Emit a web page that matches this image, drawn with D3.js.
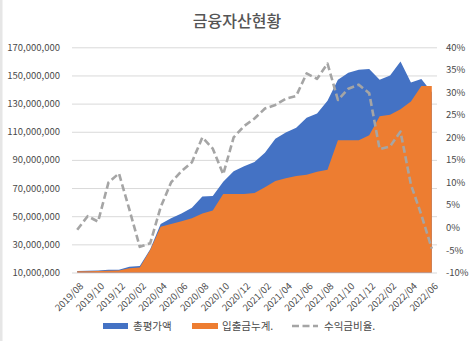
<!DOCTYPE html>
<html>
<head>
<meta charset="utf-8">
<script src="https://cdn.jsdelivr.net/npm/d3@7"></script>
<style>
  body { margin: 0; background: #fff; }
  svg { display: block; }
  text { font-family: "Noto Sans CJK KR", "Noto Sans", sans-serif; }
</style>
</head>
<body>
<svg id="chart" width="474" height="341"></svg>
<script>
// Monthly categories
const months = [
  "2019/08","2019/09","2019/10","2019/11","2019/12",
  "2020/01","2020/02","2020/03","2020/04","2020/05","2020/06","2020/07","2020/08","2020/09","2020/10","2020/11","2020/12",
  "2021/01","2021/02","2021/03","2021/04","2021/05","2021/06","2021/07","2021/08","2021/09","2021/10","2021/11","2021/12",
  "2022/01","2022/02","2022/03","2022/04","2022/05","2022/06"
];

// 총평가액 (KRW)
const totalValue = [
  11.0e6, 11.2e6, 11.5e6, 12.0e6, 12.0e6,
  14.0e6, 14.6e6, 26.5e6, 44.5e6, 48.5e6, 52.0e6, 56.0e6, 64.0e6, 64.3e6, 74.5e6, 82.0e6, 85.5e6,
  88.5e6, 95.0e6, 105.0e6, 109.5e6, 112.8e6, 120.0e6, 123.0e6, 132.0e6, 147.0e6, 152.0e6, 154.0e6, 154.5e6,
  147.0e6, 150.0e6, 160.0e6, 145.0e6, 147.5e6, 138.0e6
];

// 입출금누계. (KRW)
const cumDeposit = [
  10.9e6, 10.9e6, 11.0e6, 11.3e6, 11.5e6,
  13.0e6, 13.5e6, 26.0e6, 42.5e6, 44.5e6, 46.5e6, 48.5e6, 52.0e6, 54.0e6, 65.7e6, 65.7e6, 65.7e6,
  66.5e6, 70.5e6, 75.0e6, 77.0e6, 78.5e6, 79.5e6, 81.5e6, 83.0e6, 104.0e6, 104.0e6, 104.0e6, 107.5e6,
  121.0e6, 122.0e6, 126.0e6, 131.5e6, 142.5e6, 142.5e6
];

// 수익금비율. (%)
const returnRate = [
  -0.5, 2.5, 1.3, 10.0, 12.0,
  4.0, -4.3, -3.5, 4.5, 10.0, 12.5, 14.5, 20.0, 17.5, 11.8, 20.0, 22.5,
  24.2, 26.4, 27.2, 28.6, 29.2, 34.2, 33.0, 36.4, 28.3, 30.8, 31.7, 29.8,
  17.4, 18.0, 21.3, 9.5, 2.8, -4.7
];

const leftTicks = [10e6, 30e6, 50e6, 70e6, 90e6, 110e6, 130e6, 150e6, 170e6];
const rightTicks = [-10, -5, 0, 5, 10, 15, 20, 25, 30, 35, 40];
const monthTicks = months.filter((d, i) => i % 2 === 0);
const seriesNames = ["총평가액", "입출금누계.", "수익금비율."];
const chartTitle = "금융자산현황";

const colors = { total: "#4472C4", deposit: "#ED7D31", rate: "#A5A5A5", grid: "#D9D9D9", text: "#4A4A4A" };

const svg = d3.select("#chart");
const plotL = 72, plotR = 437, plotT = 47.3, plotB = 272.5;

const x = d3.scalePoint().domain(months).range([plotL, plotR]).padding(0.5);
const yL = d3.scaleLinear().domain([10e6, 170e6]).range([plotB, plotT]);
const yR = d3.scaleLinear().domain([-10, 40]).range([plotB, plotT]);

// frame edge on the left
svg.append("rect").attr("x", 0).attr("y", 0).attr("width", 2.5).attr("height", 341).attr("fill", "#E6E6E6");

// title
svg.append("text")
  .attr("x", 237).attr("y", 27)
  .attr("text-anchor", "middle")
  .attr("font-size", 16).attr("font-weight", 500)
  .attr("fill", "#555")
  .text(chartTitle);

// horizontal gridlines
const grid = svg.append("g").attr("transform", `translate(${plotL},0)`)
  .call(d3.axisLeft(yL).tickValues(leftTicks).tickSize(-(plotR - plotL)).tickFormat(""));
grid.select(".domain").remove();
grid.selectAll("line").attr("stroke", colors.grid).attr("stroke-width", 1);

// areas
const idx = d3.range(months.length);
const areaTotal = d3.area().x(i => x(months[i])).y0(yL(10e6)).y1(i => yL(totalValue[i]));
const areaDeposit = d3.area().x(i => x(months[i])).y0(yL(10e6)).y1(i => yL(cumDeposit[i]));

svg.append("path").datum(idx).attr("d", areaTotal).attr("fill", colors.total);
svg.append("path").datum(idx).attr("d", areaDeposit).attr("fill", colors.deposit);

// return-rate line on the secondary axis
const rateLine = d3.line().x(i => x(months[i])).y(i => yR(returnRate[i]));
svg.append("path").datum(idx).attr("d", rateLine)
  .attr("fill", "none").attr("stroke", colors.rate)
  .attr("stroke-width", 2.6).attr("stroke-dasharray", "7,3.5")
  .attr("stroke-linejoin", "round");

// left axis labels
const axL = svg.append("g").attr("transform", `translate(${plotL},0)`)
  .call(d3.axisLeft(yL).tickValues(leftTicks).tickSize(0).tickPadding(12).tickFormat(d3.format(",")));
axL.select(".domain").remove();
axL.selectAll("text").attr("font-size", 9.5).attr("fill", colors.text)
  .style("font-family", "'Noto Sans CJK KR', sans-serif");

// right axis labels
const axR = svg.append("g").attr("transform", `translate(${plotR},0)`)
  .call(d3.axisRight(yR).tickValues(rightTicks).tickSize(0).tickPadding(9).tickFormat(d => d + "%"));
axR.select(".domain").remove();
axR.selectAll("text").attr("font-size", 9.5).attr("fill", colors.text)
  .style("font-family", "'Noto Sans CJK KR', sans-serif");

// bottom axis labels, rotated
const axB = svg.append("g").attr("transform", `translate(0,${plotB})`)
  .call(d3.axisBottom(x).tickValues(monthTicks).tickSize(0));
axB.select(".domain").remove();
axB.selectAll("text")
  .attr("x", 0).attr("y", 0).attr("dy", "0.35em")
  .attr("transform", "translate(4,12) rotate(-45)")
  .style("text-anchor", "end")
  .attr("font-size", 9.5).attr("fill", colors.text)
  .style("font-family", "'Noto Sans CJK KR', sans-serif");

// legend
const legY = 326;
const leg = svg.append("g").attr("font-size", 10.5).attr("fill", colors.text);
leg.append("rect").attr("x", 103).attr("y", legY - 3).attr("width", 25).attr("height", 6).attr("fill", colors.total);
leg.append("text").attr("x", 133).attr("y", legY).attr("dy", "0.35em").text(seriesNames[0]);
leg.append("rect").attr("x", 192).attr("y", legY - 3).attr("width", 26).attr("height", 6).attr("fill", colors.deposit);
leg.append("text").attr("x", 222).attr("y", legY).attr("dy", "0.35em").text(seriesNames[1]);
leg.append("line").attr("x1", 292).attr("x2", 318).attr("y1", legY).attr("y2", legY)
  .attr("stroke", colors.rate).attr("stroke-width", 2.6).attr("stroke-dasharray", "7,3.5");
leg.append("text").attr("x", 324).attr("y", legY).attr("dy", "0.35em").text(seriesNames[2]);
</script>
</body>
</html>
